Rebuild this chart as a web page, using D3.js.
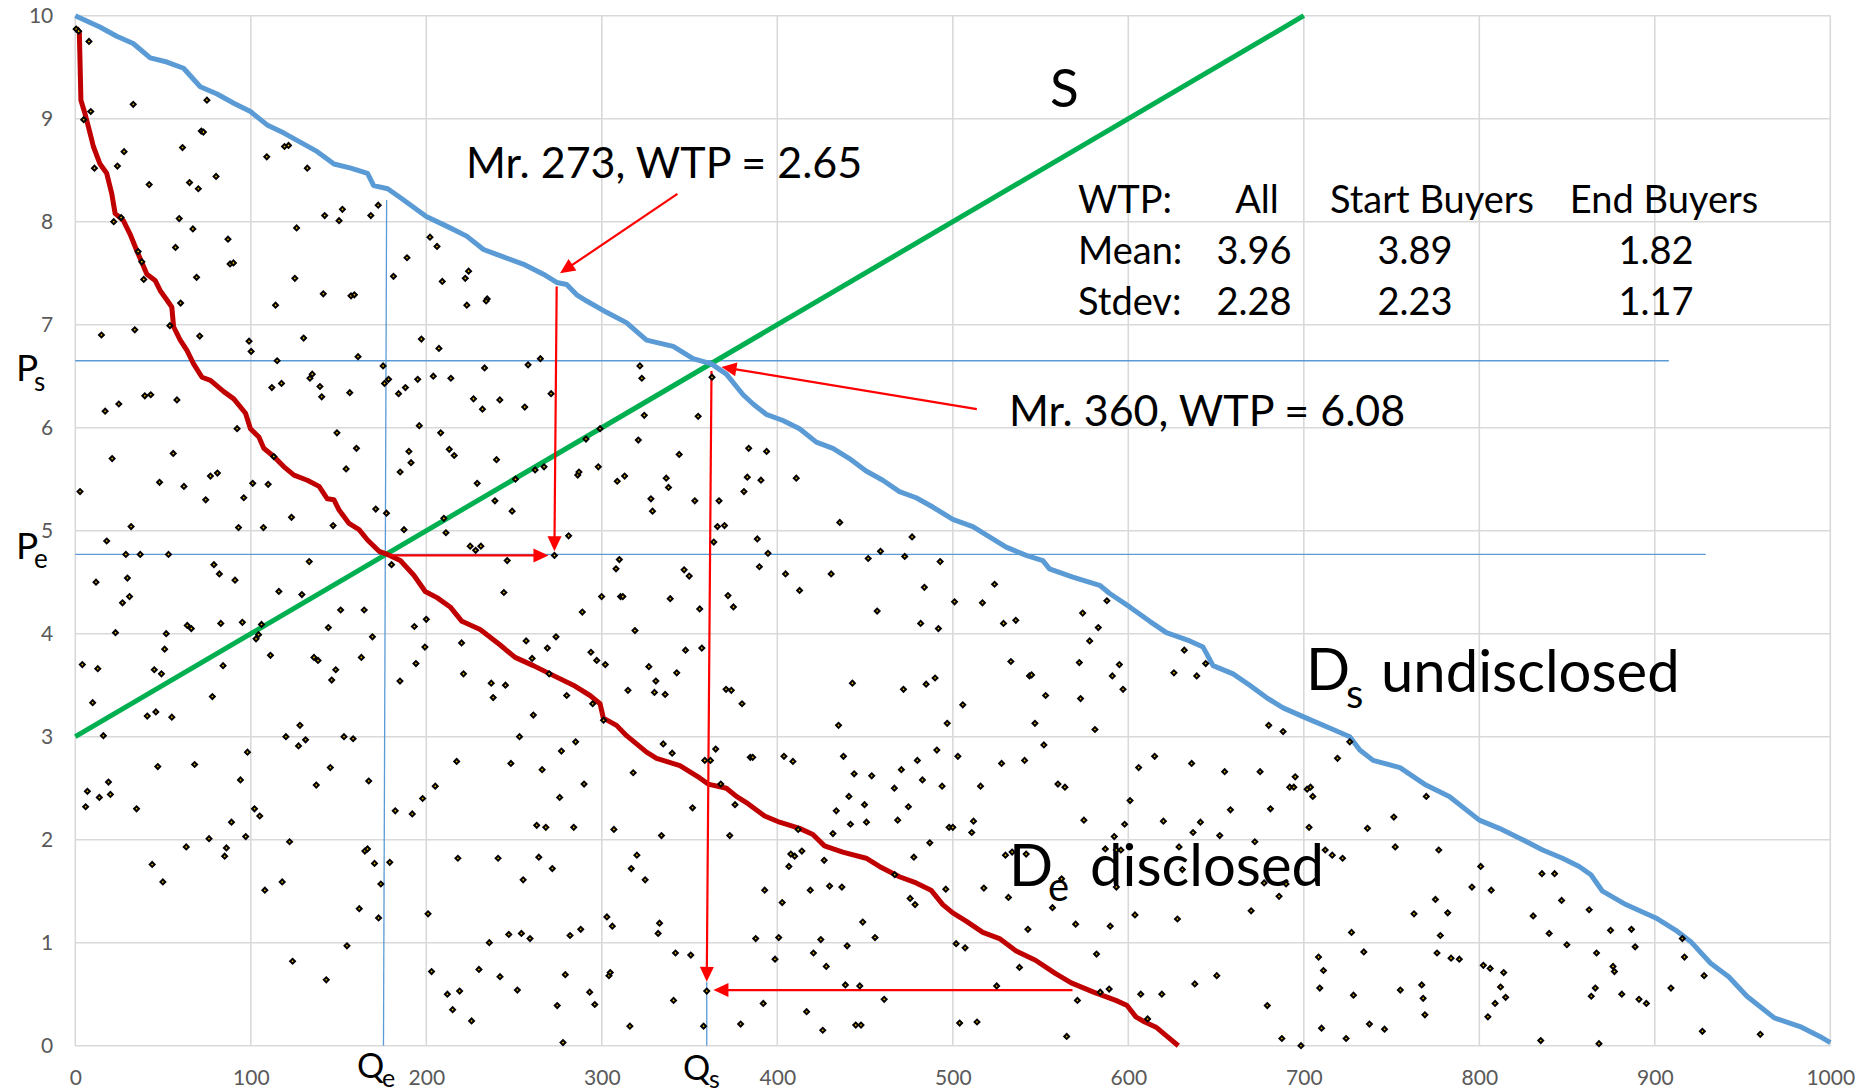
<!DOCTYPE html>
<html><head><meta charset="utf-8">
<script src="https://cdn.jsdelivr.net/npm/d3@7"></script>
<style>
body{margin:0;background:#fff}
svg{display:block}
text{font-family:Lato,'Open Sans',sans-serif}
</style>
</head><body>
<svg id="chart" width="1865" height="1092"></svg>
<script>
// ---------------- DATA ----------------
const xTicks = [0,100,200,300,400,500,600,700,800,900,1000];
const yTicks = [0,1,2,3,4,5,6,7,8,9,10];

// supply line S
const supplyLine = [[0,3],[700,10]];

// D_s undisclosed (sorted WTP of all buyers)
const undisclosed = [[0,10],[14,9.89],[23.6,9.8],[33,9.73],[42.7,9.59],[52.2,9.55],[61.7,9.49],[71.2,9.31],[80.8,9.24],[90.3,9.15],[99.8,9.07],[109.3,8.94],[118.9,8.86],[128.4,8.77],[137.9,8.68],[147.4,8.56],[157,8.52],[166.5,8.47],[170,8.35],[178,8.32],[185.5,8.23],[200,8.05],[213.6,7.94],[223,7.86],[232.6,7.73],[242,7.67],[256.3,7.58],[266.7,7.49],[274.3,7.41],[280,7.39],[285.7,7.29],[291.4,7.23],[302.7,7.12],[314,7.02],[325.5,6.85],[340.7,6.79],[352,6.67],[362.5,6.62],[371,6.52],[380.5,6.32],[386.2,6.23],[393.7,6.13],[403.2,6.07],[412.7,5.99],[422.2,5.86],[431.7,5.8],[441.1,5.7],[450.6,5.58],[460.1,5.49],[469.6,5.38],[479.1,5.32],[488.6,5.23],[500,5.11],[511.4,5.04],[520.9,4.94],[530.4,4.84],[541.8,4.76],[551.3,4.71],[555.1,4.63],[568.4,4.55],[583.7,4.47],[589.4,4.39],[600.8,4.26],[612.2,4.12],[621.7,4.01],[635,3.93],[642.6,3.87],[648.3,3.69],[659.7,3.61],[669.2,3.5],[678.7,3.38],[688.2,3.28],[701.5,3.18],[716.7,3.07],[726.2,3.0],[731.9,2.87],[739.5,2.77],[754.8,2.7],[769.6,2.53],[782.9,2.42],[800,2.19],[811.4,2.11],[824.7,2.0],[836.1,1.9],[847.4,1.82],[856.9,1.74],[863.6,1.66],[870.2,1.5],[883.5,1.37],[900.6,1.24],[912,1.12],[920.5,1.01],[931.8,0.8],[942.1,0.67],[952.5,0.48],[968.1,0.27],[983.6,0.18],[994,0.09],[1000,0.03]];

// D_e disclosed
const disclosed = [[0.6,9.88],[2.3,9.84],[3.2,9.18],[5.5,9.05],[8.4,8.86],[10.3,8.73],[14.1,8.56],[17.9,8.47],[20.8,8.27],[22.7,8.08],[27.4,8.01],[31.2,7.88],[35,7.72],[40.8,7.49],[45.5,7.43],[48.4,7.33],[52.2,7.24],[55,7.17],[56,6.98],[59.8,6.85],[63.6,6.75],[67.4,6.62],[72.2,6.49],[77,6.46],[84.6,6.35],[90.3,6.28],[97,6.14],[99.8,5.99],[104.6,5.91],[107.4,5.8],[113.1,5.72],[118.9,5.62],[124.6,5.54],[132.2,5.49],[138.9,5.43],[143.6,5.31],[147.4,5.3],[150.3,5.2],[156,5.07],[161.7,5.01],[166.5,4.91],[173.1,4.8],[177.9,4.77],[185.2,4.71],[192.8,4.57],[199.4,4.41],[206.1,4.35],[213.6,4.26],[220.3,4.12],[230.7,4.04],[242.1,3.89],[250.6,3.77],[261,3.69],[270.5,3.61],[283.8,3.5],[293.3,3.4],[299,3.32],[300.9,3.18],[308.4,3.11],[314.1,3.01],[325.5,2.85],[331.2,2.79],[344.5,2.72],[355.8,2.6],[360.6,2.54],[371,2.5],[376.7,2.42],[383.3,2.35],[392.8,2.23],[401.3,2.17],[412.7,2.11],[420.3,2.05],[426.9,1.94],[437.3,1.88],[450.6,1.82],[458.2,1.74],[469.6,1.64],[479.1,1.58],[487.6,1.51],[494.3,1.37],[500,1.29],[507.6,1.21],[517.1,1.1],[526.6,1.04],[536.1,0.92],[547.1,0.83],[558.6,0.7],[567.5,0.61],[580.2,0.52],[592.9,0.44],[599.3,0.39],[604.3,0.28],[609.4,0.23],[615.8,0.18],[622.1,0.09],[628.5,0.0]];

// individual buyers: [index, WTP]
const buyers = [
[0.5,9.87],[1.9,9.85],[7.8,9.75],[8.8,9.07],[4.8,8.99],[10.9,8.52],[33,9.14],[27.8,8.68],[24,8.54],[42.1,8.36],[75,9.18],[71.8,8.88],[73,8.87],[61.1,8.72],[65.1,8.38],[70.1,8.32],[80.2,8.44],[21.9,8.0],[26.1,8.04],[35.8,7.71],[37.9,7.61],[39,7.44],[59.2,8.03],[67,7.93],[57.1,7.75],[87,7.83],[88.2,7.59],[90.1,7.6],[69.1,7.46],[109.1,8.63],[119.2,8.73],[121.5,8.74],[132.2,8.52],[142.1,8.06],[150.3,8.01],[152.2,8.12],[168.4,8.06],[172.6,8.16],[126.1,7.94],[125.1,7.45],[141.3,7.3],[157.1,7.28],[159,7.29],[181.3,7.47],
[60,7.21],[114.1,7.19],[14.9,6.9],[33.9,6.95],[53.9,6.99],[70.9,6.89],[99,6.84],[100.2,6.74],[130.1,6.87],[161.1,6.69],[115,6.65],[175.4,6.6],[178.5,6.47],[176.2,6.43],[184.2,6.33],[133.7,6.48],[135,6.52],[139.4,6.4],[140.4,6.3],[112,6.39],[117.5,6.43],[156.4,6.34],[17,6.16],[24.8,6.23],[39.6,6.31],[43,6.32],[57.9,6.27],[92.2,5.99],[149.1,5.95],[160.2,5.8],[21,5.7],[55.8,5.75],[113.1,5.72],[154.3,5.6],[2.7,5.38],[48,5.47],[61.9,5.43],[77,5.53],[81,5.56],[74.3,5.3],[96,5.32],[101.1,5.46],[109.9,5.45],[123.2,5.13],[171.2,5.21],[177.3,5.17],[185.1,5.57],[31.8,5.04],[93,5.03],[107.2,5.03],[146.9,5.05],[17.9,4.9],[28.8,4.77],[37,4.77],[53.1,4.77],[133.3,4.7],[180.2,4.67],[79,4.67],[82.1,4.58],[91,4.52],[11.8,4.5],[29.7,4.54],[30.9,4.36],[116,4.41],[129.1,4.38],
[26.9,4.3],[151.2,4.23],[164.6,4.23],[22.9,4.01],[51.8,4],[63.8,4.08],[66.1,4.05],[82.9,4.1],[95.2,4.11],[106.1,4.09],[103,3.95],[104.4,3.99],[144.2,4.06],[169.3,3.97],[4,3.7],[12.8,3.66],[45,3.65],[49.1,3.61],[50.9,3.85],[84.2,3.69],[111.2,3.79],[136,3.77],[138.3,3.74],[148.4,3.65],[146.1,3.55],[163,3.77],[185,3.54],[9.9,3.33],[78.1,3.39],[41,3.2],[45.9,3.24],[55,3.19],[16,3.01],[120,3],[128,3.11],[127.2,2.91],[131.2,2.97],[153.1,3],[158.3,2.98],[98.1,2.85],[47,2.71],[68,2.73],[145.3,2.7],[137.3,2.53],[167.2,2.57],[6.9,2.47],[5.9,2.32],[13.7,2.41],[18.9,2.56],[20,2.44],[34.9,2.3],[94.1,2.58],[102.1,2.3],[105.1,2.23],[89,2.17],[182.3,2.28],[76.2,2.01],[97.1,2.03],[63.2,1.93],[86.1,1.92],[85.1,1.84],[122.1,1.98],[165,1.89],[166.5,1.91],[170.5,1.77],[179.2,1.78],[174.1,1.57],[43.8,1.76],[49.9,1.59],[117.9,1.59],[108,1.51],
[161.8,1.33],[172.8,1.24],[201,1.28],[123.8,0.82],[143,0.64],[154.8,0.97],[203,0.72],[212,0.5],[219,0.53],[215,0.35],[225.8,0.24],[230,0.74],[235.9,1.0],[242,0.67],
[202.1,7.85],[206.1,7.76],[189,7.65],[224.1,7.52],[222.2,7.45],[209.1,7.42],[223.1,7.19],[234.7,7.25],[234.1,7.23],[197.2,6.86],[207.2,6.77],
[233.2,6.58],[258,6.61],[265,6.67],[188.1,6.39],[195.1,6.47],[204,6.5],[214,6.48],[226.9,6.28],[232,6.18],[241.9,6.27],[256.1,6.2],[271.1,6.33],[321.7,6.6],[322.8,6.48],[196,6.02],[208.2,5.95],[190.1,5.77],[191.3,5.66],[213.1,5.79],[215.9,5.73],[240,5.69],[229,5.46],[239.1,5.29],[248.9,5.19],[250.8,5.5],[262,5.59],[267.1,5.62],[286.3,5.54],[287,5.57],[298,5.62],[291,5.89],[299,5.99],[324.2,6.12],[320.8,5.88],[308.8,5.48],[313,5.53],[336.7,5.51],[338,5.42],[344.1,5.74],[328,5.31],[328.9,5.19],[353,5.29],[354.9,6.11],[362.8,6.49],[366.8,5.29],[365.9,5.04],[369.9,5.05],[363.8,4.89],[383.7,5.8],[393.9,5.77],[382.9,5.52],[390.7,5.49],[381,5.38],[410.8,5.51],[435.6,5.08],[388.6,4.92],[394.7,4.78],[389.8,4.65],[404.7,4.58],[412.7,4.42],[430.7,4.58],[451.8,4.73],[458.8,4.8],[456.9,4.22],[187.3,5.01],[211.2,4.98],[210,5.12],[225,4.85],[228.1,4.81],[231.1,4.85],[281.1,4.95],[273,4.76],[246.1,4.71],[310,4.72],[308.1,4.63],[346.9,4.62],[349.8,4.56],[244.2,4.4],[299.9,4.36],[310.7,4.36],[312,4.36],[288.9,4.21],[339,4.34],[355.8,4.24],[371.9,4.37],[375,4.26],[318.9,4.03],[193.2,4.07],[200,4.14],[220.1,3.91],[199.2,3.87],[194.1,3.71],[221.2,3.61],[237,3.52],[238.1,3.38],[245.1,3.5],[256.9,3.93],[269,3.86],[273.9,3.97],[260.3,3.76],[270,3.61],[293.8,3.82],[297.1,3.74],[302,3.7],[280,3.4],[294.8,3.32],[261,3.21],[301,3.16],[326.8,3.68],[330.8,3.54],[330,3.43],[336.1,3.41],[314.9,3.45],[342.7,3.62],[347.7,3.84],[357,3.86],[370.8,3.46],[373.8,3.45],[379.9,3.32],[442.8,3.52],[434.9,3.11],[437.7,2.81],[443.8,2.64],[453.8,2.62],[440.8,2.42],[449.7,2.34],[433.6,2.28],[441.7,2.15],[450.8,2.17],[431.7,2.06],[466.7,2.5],[468.6,2.19],[403.8,2.81],[408.9,2.76],[384.6,2.8],[386,2.8],[364.9,2.88],[358.7,2.77],[361.9,2.77],[367.8,2.54],[375.9,2.34],[372.9,2.04],[351.7,2.31],[335,2.93],[340.1,2.84],[317.9,2.65],[334,2.04],[306.9,2.1],[411.9,2.1],[407.7,1.86],[409.9,1.84],[414,1.89],[406.6,1.74],[426.7,1.8],[418.8,1.51],[429.8,1.55],[436.8,1.54],[392.8,1.51],[402.8,1.39],[448.7,1.2],[455.7,1.05],[439.8,0.97],[424.8,1.03],[420.6,0.9],[387.7,1.04],[400.8,1.05],[398.7,0.84],[466.9,1.66],[253.1,3],[285.1,2.95],[277,2.86],[217.3,2.76],[248.2,2.74],[266,2.68],[289.9,2.54],[276,2.41],[205.1,2.52],[197.9,2.4],[192,2.25],[262.9,2.14],[268.1,2.12],[284,2.12],[218,1.82],[240.9,1.82],[264.1,1.83],[271.8,1.72],[255.2,1.61],[320,1.85],[316.8,1.72],[324.7,1.61],[302.9,1.25],[306,1.16],[332.9,1.19],[332.1,1.09],[247,1.08],[254.2,1.09],[259.1,1.04],[281.9,1.07],[288,1.13],[342,0.9],[350.7,0.88],
[476.8,4.94],[472.6,4.75],[492.8,4.7],[483.8,4.45],[501,4.31],[516.9,4.3],[523.8,4.48],[481.7,4.1],[491.8,4.05],[528.9,4.1],[535.9,4.13],[574,4.2],[587.8,4.32],[582.9,4.06],[578,3.93],[572.1,3.72],[594.9,3.7],[590.9,3.59],[597,3.46],[572.8,3.37],[631.9,3.84],[626,3.62],[639,3.59],[644.1,3.71],[533.1,3.73],[543.7,3.59],[544.9,3.6],[552.9,3.4],[471.9,3.46],[484.8,3.51],[489.9,3.57],[505.7,3.31],[496.8,3.13],[546.8,3.13],[581,3.07],[551.9,2.92],[680,3.11],[688.2,3.05],[726.2,2.95],[719.2,2.79],[490.9,2.87],[479.8,2.77],[470.7,2.68],[502.9,2.81],[482.7,2.58],[493.9,2.52],[515.8,2.52],[527.8,2.74],[540.9,2.77],[559.9,2.54],[563.9,2.51],[605.9,2.7],[615,2.81],[636.1,2.74],[654.9,2.66],[675.1,2.66],[695.1,2.61],[692,2.51],[694.3,2.51],[701.9,2.49],[703.8,2.51],[705.1,2.42],[601,2.38],[474.7,2.32],[497.9,2.12],[500,2.12],[511.8,2.18],[510.8,2.07],[486.9,1.97],[477.8,1.83],[574.7,2.19],[597.9,2.15],[592,2.03],[620,2.18],[636.9,2.07],[641.1,2.17],[658.2,2.29],[681,2.3],[652.1,2.04],[672.1,1.98],[703,2.12],[736.3,2.11],[751.3,2.22],[752.1,1.93],[628.9,1.93],[712.2,1.9],[716.2,1.85],[722.1,1.82],[530,1.85],[533.8,1.88],[541.8,1.86],[586.9,1.91],[593.2,1.9],[595.8,1.9],[562,1.62],[593.2,1.54],[630.8,1.71],[677.4,1.58],[689.9,1.57],[685.9,1.45],[475.7,1.43],[478.5,1.37],[496,1.52],[517.7,1.53],[531.7,1.44],[556.8,1.34],[603.8,1.27],[589.7,1.16],[570,1.18],[542.8,1.13],[628,1.23],[670,1.31],[727.2,1.1],[734.2,0.91],[708.4,0.86],[501.9,0.99],[507,0.95],[581.9,0.89],
[769.8,2.42],[776.9,1.9],[800.8,1.74],[795.8,1.54],[806.8,1.51],[835.7,1.67],[842.9,1.67],[846.9,1.41],[862.6,1.32],[775,1.42],[762.8,1.28],[782,1.29],[830.7,1.26],[777.8,1.07],[839.8,1.09],[874.8,1.12],[886.7,1.13],[849.9,0.98],[866.8,0.9],[888.8,0.96],[915.7,1.04],[916.9,0.86],[775.9,0.9],[783.9,0.85],[788.6,0.84],
[251.9,0.54],[279.2,0.69],[274.6,0.39],[277.9,0.03],[293.1,0.52],[296,0.4],[304.1,0.68],[304.8,0.71],[316,0.19],[340.9,0.44],[359.8,0.53],[358,0.19],[379.1,0.21],[392,0.41],[427.9,0.77],[416.7,0.33],[425.9,0.15],[438.8,0.59],[447,0.58],[444.7,0.2],[447.7,0.2],[460.9,0.45],[503.9,0.22],[513.8,0.23],[525,0.58],[538,0.76],[564.9,0.09],[571,0.44],[584,0.52],[589.1,0.55],[607.1,0.5],[611,0.26],[619.1,0.5],[637.9,0.6],
[650.4,0.68],[679.2,0.39],[687.5,0.07],[698.4,0],[711.2,0.73],[709.1,0.56],[710.1,0.17],[728.3,0.49],[724.1,0.07],[737.4,0.21],[746,0.16],[755,0.54],[767.2,0.59],[768,0.46],[769,0.3],[802.3,0.78],[806.2,0.75],[813.9,0.71],[812.1,0.57],[815,0.47],[809,0.41],[804.9,0.28],[835,0.05],[876.2,0.77],[877,0.72],[866.1,0.56],[863.8,0.48],[881.2,0.5],[891,0.45],[895.2,0.41],[868.2,0.02],[909.2,0.56],[928.1,0.68],[927.1,0.14],[960.1,0.11]
];

// equilibrium guide lines
const Ps = 6.65, Pe = 4.77;
const psLine = [[0,Ps],[908,Ps]];
const peLine = [[0,Pe],[929,Pe]];
const qeLine = [[177.4,8.21],[175.6,0]];
const qsLine = [[359.8,0.62],[359.8,0]];

// red annotation arrows [from, to]
const arrows = [
  [[343.1,8.27],[276.2,7.50]],
  [[274.3,7.37],[273.0,4.80]],
  [[179,4.76],[269.6,4.76]],
  [[513.7,6.18],[368.2,6.59]],
  [[362.5,6.55],[359.8,0.62]],
  [[568.2,0.54],[363.6,0.54]]
];

const statsHeader = ["WTP:","All","Start Buyers","End Buyers"];
const statsMean   = ["Mean:","3.96","3.89","1.82"];
const statsStdev  = ["Stdev:","2.28","2.23","1.17"];

// ---------------- DRAW ----------------
const svg = d3.select("#chart");
svg.append("rect").attr("width",1865).attr("height",1092).attr("fill","#fff");
const x = d3.scaleLinear().domain([0,1000]).range([75.3,1830.3]);
const y = d3.scaleLinear().domain([0,10]).range([1045.7,15.7]);

const grid = svg.append("g");
grid.selectAll(".vg").data(xTicks).join("line")
  .attr("x1",d=>x(d)).attr("x2",d=>x(d)).attr("y1",y(0)).attr("y2",y(10))
  .attr("stroke","#d9d9d9").attr("stroke-width",1.6);
grid.selectAll(".hg").data(yTicks).join("line")
  .attr("x1",x(0)).attr("x2",x(1000)).attr("y1",d=>y(d)).attr("y2",d=>y(d))
  .attr("stroke","#d9d9d9").attr("stroke-width",1.6);

const xAxis = svg.append("g").attr("transform",`translate(0,${y(0)})`)
  .call(d3.axisBottom(x).tickValues(xTicks).tickSize(0).tickPadding(24).tickFormat(d3.format("d")));
const yAxis = svg.append("g").attr("transform",`translate(${x(0)},0)`)
  .call(d3.axisLeft(y).tickValues(yTicks).tickSize(0).tickPadding(22).tickFormat(d3.format("d")));
[xAxis,yAxis].forEach(a=>{
  a.select(".domain").remove();
  a.selectAll("text").attr("fill","#595959").style("font-size","21px").style("font-family","Lato,'Open Sans',sans-serif");
});

const line = d3.line().x(d=>x(d[0])).y(d=>y(d[1]));

// thin blue guide lines
[psLine,peLine,qeLine,qsLine].forEach(l=>{
  svg.append("path").attr("d",line(l)).attr("stroke","#5b9bd5").attr("stroke-width",1.3).attr("fill","none");
});

// curves
svg.append("path").attr("d",line(supplyLine)).attr("stroke","#00b050").attr("stroke-width",5).attr("fill","none");
svg.append("path").attr("d",line(undisclosed)).attr("stroke","#5b9bd5").attr("stroke-width",5).attr("fill","none").attr("stroke-linejoin","round");
svg.append("path").attr("d",line(disclosed)).attr("stroke","#c00000").attr("stroke-width",5).attr("fill","none").attr("stroke-linejoin","round");

// arrows
const ag = svg.append("g");
arrows.forEach(([a,b])=>{
  const x1=x(a[0]), y1=y(a[1]), x2=x(b[0]), y2=y(b[1]);
  const L=Math.hypot(x2-x1,y2-y1), ux=(x2-x1)/L, uy=(y2-y1)/L;
  const hl=15, hw=7;
  ag.append("line").attr("x1",x1).attr("y1",y1).attr("x2",x2-ux*(hl-2)).attr("y2",y2-uy*(hl-2))
    .attr("stroke","#ff0000").attr("stroke-width",2.2);
  const bx=x2-ux*hl, by=y2-uy*hl;
  ag.append("path").attr("d",`M${x2},${y2}L${bx-uy*hw},${by+ux*hw}L${bx+uy*hw},${by-ux*hw}Z`).attr("fill","#ff0000");
});

// text labels
const T = (tx,ty,str,size,anchor)=>svg.append("text").attr("x",tx).attr("y",ty).text(str)
   .style("font-size",size+"px").attr("text-anchor",anchor||"start").attr("fill","#000");
T(466,178,"Mr. 273, WTP = 2.65",43);
T(1009,426,"Mr. 360, WTP = 6.08",43);
T(1050,107,"S",53);
T(1306,690,"D",58); T(1346,708,"s",40); T(1381,692,"undisclosed",58);
T(1009,886,"D",58); T(1048,901,"e",40); T(1090,886,"disclosed",58);
T(16,381,"P",37); T(34,391,"s",26);
T(16,559,"P",37); T(34,568,"e",26);
T(357,1078,"Q",34); T(382,1087,"e",25);
T(683,1080,"Q",34); T(709,1088,"s",25);

// stats table
const hdrX = [1078,1257,1432,1664];
const valX = [1078,1254,1415,1656];
statsHeader.forEach((s,i)=>T(hdrX[i],213,s,38,i?"middle":"start"));
statsMean.forEach((s,i)=>T(valX[i],264,s,38,i?"middle":"start"));
statsStdev.forEach((s,i)=>T(valX[i],315,s,38,i?"middle":"start"));

// buyers (scatter)
const sym = d3.symbol().type(d3.symbolSquare).size(12)();
svg.append("g").selectAll("path").data(buyers).join("path")
  .attr("d",sym)
  .attr("transform",d=>`translate(${x(d[0])},${y(d[1])}) rotate(45)`)
  .attr("fill","#ffc000").attr("stroke","#000").attr("stroke-width",2);
</script>
</body></html>
